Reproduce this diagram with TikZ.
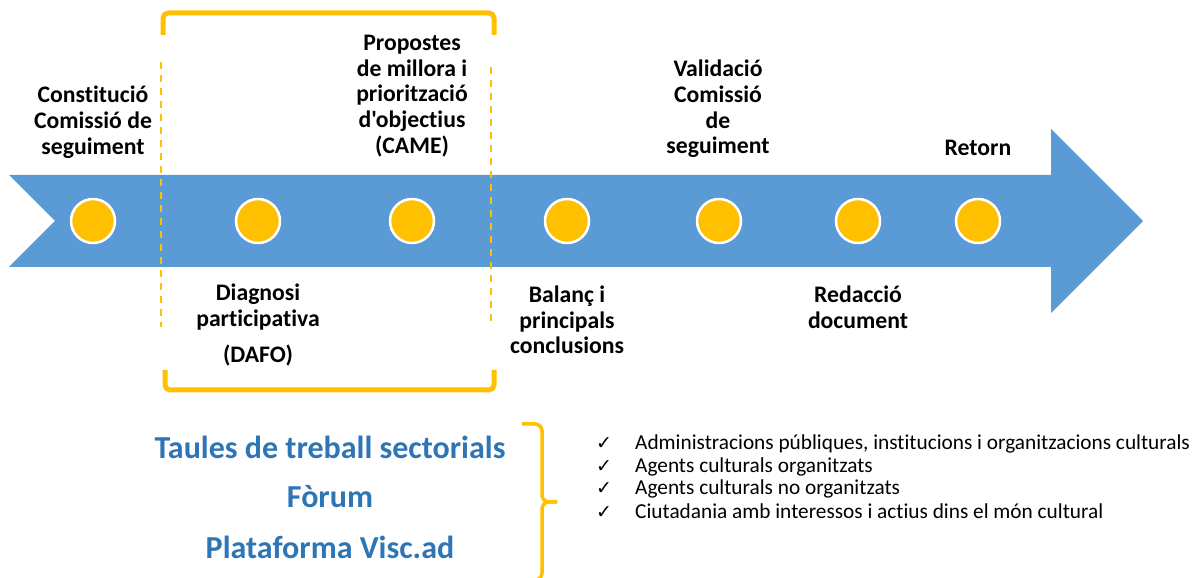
\documentclass[tikz,border=0pt]{standalone}
\usepackage{fontspec}
\setmainfont{Carlito}[Ligatures={TeXOff,CommonOff}]
\newfontfamily\checkfont{DejaVu Sans}
\definecolor{bandblue}{HTML}{5B9BD5}
\definecolor{stepyellow}{HTML}{FFC000}
\definecolor{titleblue}{HTML}{2E75B6}
\newcommand{\tickbox}{\makebox[39bp][l]{\checkfont\fontsize{19bp}{19bp}\selectfont ✓}}
\tikzset{
  stepdot/.style={circle,fill=stepyellow,draw=white,line width=2.5bp,minimum size=44bp,inner sep=0pt},
  steplabel/.style={align=center,inner sep=0pt,font=\fontsize{23.7bp}{25.7bp}\selectfont\bfseries},
  grouptitle/.style={inner sep=0pt,text=titleblue,font=\fontsize{32bp}{38bp}\selectfont\bfseries},
  listitem/.style={anchor=west,inner sep=0pt,font=\fontsize{21.3bp}{22.5bp}\selectfont},
  bracketline/.style={draw=stepyellow,line width=5bp,rounded corners=5bp},
  dashline/.style={draw=stepyellow,line width=1.8bp,dash pattern=on 7bp off 6bp},
  braceline/.style={draw=stepyellow,line width=3.5bp,rounded corners=7bp},
}
\begin{document}
\begin{tikzpicture}[>=latex,line join=bevel,]
%%
\useasboundingbox (0bp,0bp) rectangle (1200bp,578bp);
\path [fill=bandblue] (9bp,403bp) -- (1051bp,403bp) -- (1051bp,449bp) -- (1143bp,357bp) -- (1051bp,265bp) -- (1051bp,311bp) -- (9bp,311bp) -- (55bp,357bp) -- cycle;
%
\draw [bracketline] (163bp,543bp) -- (163bp,565bp) -- (494bp,565bp) -- (494bp,543bp);
\draw [bracketline] (165bp,208bp) -- (165bp,188bp) -- (494bp,188bp) -- (494bp,208bp);
\draw [dashline] (161bp,516bp) -- (161bp,251bp);
\draw [dashline] (491bp,511bp) -- (491bp,251bp);
%
\node (step_0) at (93bp,357bp) [stepdot] {};
  \node (step_1) at (258bp,357bp) [stepdot] {};
  \node (step_2) at (412bp,357bp) [stepdot] {};
  \node (step_3) at (567bp,357bp) [stepdot] {};
  \node (step_4) at (719bp,357bp) [stepdot] {};
  \node (step_5) at (858bp,357bp) [stepdot] {};
  \node (step_6) at (978bp,357bp) [stepdot] {};
%
\node (label_0) at (93bp,456bp) [steplabel] {Constitució\\Comissió de\\seguiment};
  \node (label_1) at (258bp,253bp) [steplabel] {Diagnosi\\participativa\\[10bp](DAFO)};
  \node (label_2) at (412bp,482bp) [steplabel] {Propostes\\de millora i\\priorització\\d'objectius\\(CAME)};
  \node (label_3) at (567bp,258bp) [steplabel] {Balanç i\\principals\\conclusions};
  \node (label_4) at (718bp,469bp) [steplabel] {Validació\\Comissió\\de\\seguiment};
  \node (label_5) at (858bp,271bp) [steplabel] {Redacció\\document};
  \node (label_6) at (978bp,430bp) [steplabel] {Retorn};
%
\node (group_0) at (330bp,131bp) [grouptitle] {Taules de treball sectorials};
  \node (group_1) at (330bp,81bp) [grouptitle] {Fòrum};
  \node (group_2) at (330bp,31bp) [grouptitle] {Plataforma Visc.ad};
\draw [braceline] (522bp,154bp) -- (542bp,154bp) -- (542bp,76bp) -- (557bp,76bp);
\draw [braceline] (557bp,76bp) -- (542bp,76bp) -- (542bp,-2bp) -- (522bp,-2bp);
%
\node (item_0) at (596bp,134bp) [listitem] {\tickbox Administracions públiques, institucions i organitzacions culturals};
  \node (item_1) at (596bp,111.5bp) [listitem] {\tickbox Agents culturals organitzats};
  \node (item_2) at (596bp,89bp) [listitem] {\tickbox Agents culturals no organitzats};
  \node (item_3) at (596bp,66.5bp) [listitem] {\tickbox Ciutadania amb interessos i actius dins el món cultural};
%
\end{tikzpicture}
\end{document}
